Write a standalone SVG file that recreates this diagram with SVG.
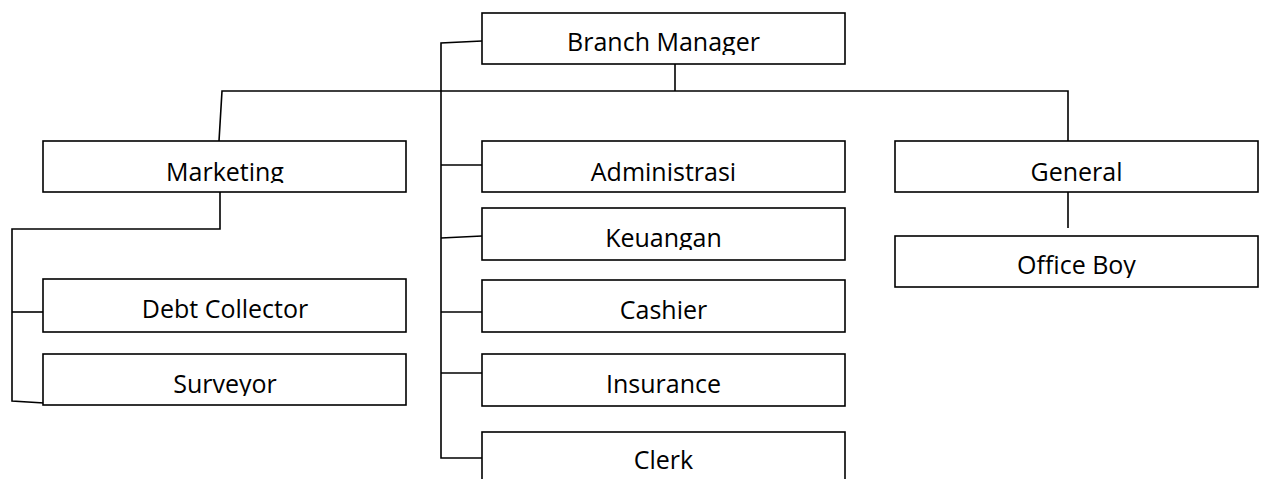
<svg xmlns="http://www.w3.org/2000/svg" width="1266" height="479" viewBox="0 0 1266 479">
<style>
.box{fill:#fff;stroke:#000;stroke-width:1.6}
.lbl{font-family:"Open Sans","Noto Sans",sans-serif;font-size:25px;fill:#000;text-anchor:middle}
.con{fill:none;stroke:#000;stroke-width:1.6}
</style>
<defs>
<clipPath id="cBM"><rect x="482" y="13" width="363" height="42"/></clipPath>
<clipPath id="cMK"><rect x="43" y="141" width="363" height="42"/></clipPath>
<clipPath id="cAD"><rect x="482" y="141" width="363" height="42"/></clipPath>
<clipPath id="cGE"><rect x="895" y="141" width="363" height="42"/></clipPath>
<clipPath id="cKE"><rect x="482" y="208" width="363" height="42"/></clipPath>
<clipPath id="cOB"><rect x="895" y="236" width="363" height="42"/></clipPath>
<clipPath id="cDC"><rect x="43" y="279" width="363" height="42"/></clipPath>
<clipPath id="cCA"><rect x="482" y="280" width="363" height="42"/></clipPath>
<clipPath id="cSU"><rect x="43" y="354" width="363" height="42"/></clipPath>
<clipPath id="cIN"><rect x="482" y="354" width="363" height="42"/></clipPath>
<clipPath id="cCL"><rect x="482" y="432" width="363" height="42"/></clipPath>
</defs>
<g id="connectors">
<polyline class="con" points="482,41 441,43 441,458 482,458"/>
<line class="con" x1="675" y1="64" x2="675" y2="91"/>
<polyline class="con" points="219,141 222,91 1068,91 1068,141"/>
<line class="con" x1="441" y1="165" x2="482" y2="165"/>
<line class="con" x1="441" y1="238" x2="482" y2="236"/>
<line class="con" x1="441" y1="312" x2="482" y2="312"/>
<line class="con" x1="441" y1="373" x2="482" y2="373"/>
<polyline class="con" points="220,192 220,229 12,229 12,401 44,403"/>
<line class="con" x1="12" y1="312" x2="43" y2="312"/>
<line class="con" x1="1068" y1="192" x2="1068" y2="228"/>
</g>
<g id="branch-manager"><rect class="box" x="482" y="13" width="363" height="51"/><text class="lbl" x="663.5" y="51" clip-path="url(#cBM)">Branch Manager</text></g>
<g id="marketing"><rect class="box" x="43" y="141" width="363" height="51"/><text class="lbl" x="225" y="180.5" clip-path="url(#cMK)">Marketing</text></g>
<g id="administrasi"><rect class="box" x="482" y="141" width="363" height="51"/><text class="lbl" x="663.5" y="180.5" clip-path="url(#cAD)">Administrasi</text></g>
<g id="general"><rect class="box" x="895" y="141" width="363" height="51"/><text class="lbl" x="1076.5" y="180.5" clip-path="url(#cGE)">General</text></g>
<g id="keuangan"><rect class="box" x="482" y="208" width="363" height="52"/><text class="lbl" x="663.5" y="247" clip-path="url(#cKE)">Keuangan</text></g>
<g id="office-boy"><rect class="box" x="895" y="236" width="363" height="51"/><text class="lbl" x="1076.5" y="274" clip-path="url(#cOB)">Office Boy</text></g>
<g id="debt-collector"><rect class="box" x="43" y="279" width="363" height="53"/><text class="lbl" x="225" y="318" clip-path="url(#cDC)">Debt Collector</text></g>
<g id="cashier"><rect class="box" x="482" y="280" width="363" height="52"/><text class="lbl" x="663.5" y="319" clip-path="url(#cCA)">Cashier</text></g>
<g id="surveyor"><rect class="box" x="43" y="354" width="363" height="51"/><text class="lbl" x="225" y="392.5" clip-path="url(#cSU)">Surveyor</text></g>
<g id="insurance"><rect class="box" x="482" y="354" width="363" height="52"/><text class="lbl" x="663.5" y="392.5" clip-path="url(#cIN)">Insurance</text></g>
<g id="clerk"><rect class="box" x="482" y="432" width="363" height="60"/><text class="lbl" x="663.5" y="469" clip-path="url(#cCL)">Clerk</text></g>
</svg>
